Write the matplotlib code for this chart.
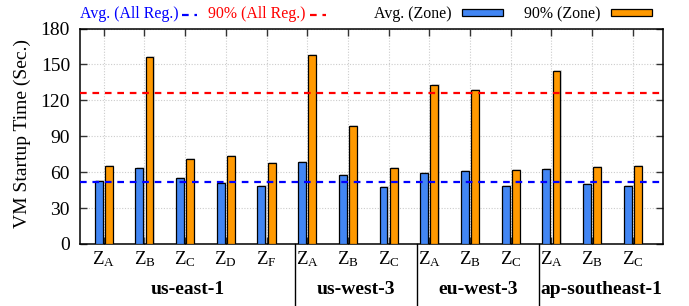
import matplotlib
matplotlib.use("Agg")
import matplotlib.pyplot as plt
from matplotlib.lines import Line2D
from matplotlib.patches import Rectangle
import numpy as np

plt.rcParams['font.family'] = ['Liberation Serif', 'DejaVu Serif']
plt.rcParams['mathtext.fontset'] = 'custom'
plt.rcParams['mathtext.rm'] = 'Liberation Serif'
plt.rcParams['mathtext.it'] = 'Liberation Serif:italic'
plt.rcParams['mathtext.bf'] = 'Liberation Serif:bold'

regions = ['us-east-1', 'us-west-3', 'eu-west-3', 'ap-southeast-1']
zones = [['A', 'B', 'C', 'D', 'F'], ['A', 'B', 'C'], ['A', 'B', 'C'], ['A', 'B', 'C']]
avg_zone = [52.6, 63.6, 54.8, 51.2, 48.7,
            68.5, 57.8, 47.6,
            59.2, 60.8, 48.2,
            62.5, 50.1, 48.7]
p90_zone = [65.0, 156.6, 71.3, 73.2, 67.4,
            158.0, 98.3, 63.6,
            133.0, 128.5, 61.9,
            144.2, 64.1, 65.2]
avg_all = 52.0
p90_all = 126.3
yticks = [0, 30, 60, 90, 120, 150, 180]

W, H = 689, 306
fig = plt.figure(figsize=(W / 100, H / 100), dpi=100)
AX_L, AX_R, AX_T, AX_B = 79.7, 663.3, 28.5, 244.0
ax = fig.add_axes([AX_L / W, 1 - AX_B / H, (AX_R - AX_L) / W, (AX_B - AX_T) / H])

blue = '#4286f4'
orange = '#ff9900'
n = len(avg_zone)
x = np.arange(n)
bw = 0.195
off = 0.125

# shadows
ax.bar(x - off + 0.03, np.array(avg_zone) + 0.8, bw, color='#999999', alpha=0.35, lw=0, zorder=2)
ax.bar(x + off + 0.03, np.array(p90_zone) + 0.8, bw, color='#999999', alpha=0.35, lw=0, zorder=2)
ax.bar(x - off, avg_zone, bw, color=blue, edgecolor='black', lw=0.9, zorder=3)
ax.bar(x + off, p90_zone, bw, color=orange, edgecolor='black', lw=0.9, zorder=3)

ax.axhline(avg_all, color='#0000ff', lw=1.6, ls=(0, (3, 2.6)), zorder=4)
ax.axhline(p90_all, color='#ff0000', lw=1.6, ls=(0, (3, 2.6)), zorder=4)

ax.set_xlim(-0.59, 13.75)
ax.set_ylim(0, 180)
ax.set_yticks(yticks)
ax.set_yticklabels([str(v) for v in yticks], fontsize=14)
labels = []
for zl in zones:
    for z in zl:
        labels.append(r'$\mathrm{Z_%s}$' % z)
ax.set_xticks(x)
ax.set_xticklabels(labels, fontsize=13.5)
ax.tick_params(axis='both', direction='in', length=5, width=1, color='#333333',
               top=True, right=True)
ax.tick_params(axis='x', pad=4)
ax.tick_params(axis='y', pad=7)
ax.grid(True, color='#cccccc', ls=(0, (1, 1.5)), lw=0.8, zorder=0)
ax.set_axisbelow(True)
for s in ax.spines.values():
    s.set_linewidth(1.1)

# y label placed in figure pixels
fig.text(22.5 / W, 1 - ((AX_T + AX_B) / 2 - 3) / H, 'VM Startup Time (Sec.)', rotation=90,
         ha='center', va='center', fontsize=14)

# region separators and labels
def py2data(py):
    return (AX_B - py) / (AX_B - AX_T) * 180

starts = [0]
for zl in zones:
    starts.append(starts[-1] + len(zl))
for i, reg in enumerate(regions):
    a, b = starts[i], starts[i + 1] - 1
    if i > 0:
        xs = a - 0.3
        ax.add_line(Line2D([xs, xs], [0, py2data(306)], color='black', lw=1,
                           clip_on=False))
    left = -0.59 if i == 0 else a - 0.3
    right = 13.75 if i == len(regions) - 1 else b + 0.7
    ax.text((left + right) / 2, py2data(290), reg, ha='center', va='center',
            fontsize=14, fontweight='bold', clip_on=False)

# legend in figure pixels
def fx(px):
    return px / W
def fy(py):
    return 1 - py / H
ly = 14.5
fs_leg = 11.4
fig.text(fx(178.3), fy(ly), 'Avg. (All Reg.)', color='#0000ff', ha='right', va='center', fontsize=fs_leg)
fig.add_artist(Line2D([fx(181.7), fx(197)], [fy(ly + 0.5), fy(ly + 0.5)], color='#0000ff', lw=1.6,
                      ls=(0, (3, 2.6))))
fig.text(fx(305), fy(ly), '90% (All Reg.)', color='#ff0000', ha='right', va='center', fontsize=fs_leg)
fig.add_artist(Line2D([fx(310), fx(326)], [fy(ly + 0.5), fy(ly + 0.5)], color='#ff0000', lw=1.6,
                      ls=(0, (3, 2.6))))
fig.text(fx(451.7), fy(ly), 'Avg. (Zone)', color='black', ha='right', va='center', fontsize=fs_leg)
fig.add_artist(Rectangle((fx(461.7), fy(16)), fx(502.7) - fx(461.7), fy(9.3) - fy(16),
                         facecolor=blue, edgecolor='black', lw=0.9, transform=fig.transFigure))
fig.text(fx(600.7), fy(ly), '90% (Zone)', color='black', ha='right', va='center', fontsize=fs_leg)
fig.add_artist(Rectangle((fx(610.7), fy(16)), fx(651.7) - fx(610.7), fy(9.3) - fy(16),
                         facecolor=orange, edgecolor='black', lw=0.9, transform=fig.transFigure))

fig.savefig('out.png', dpi=100)
